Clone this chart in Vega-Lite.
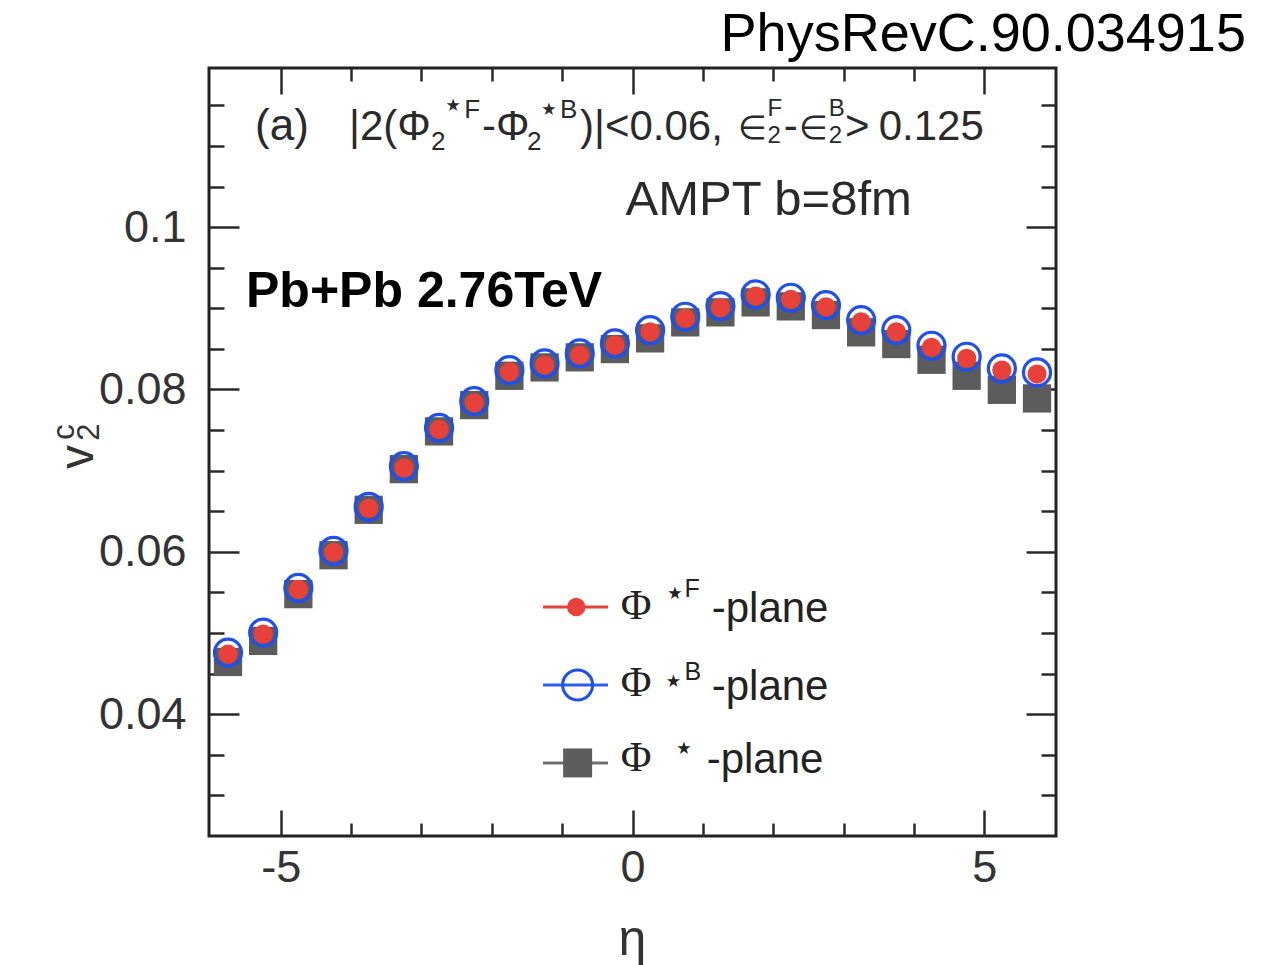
{
  "$schema": "https://vega.github.io/schema/vega-lite/v6.json",
  "width": 847,
  "height": 768,
  "autosize": "none",
  "padding": {"left": 209, "top": 68, "right": 210, "bottom": 129},
  "background": "white",
  "config": {
    "view": {"stroke": "#222222", "strokeWidth": 3},
    "axis": {"domain": false, "grid": false, "tickColor": "#2a2a2a", "tickWidth": 2.5, "labelFont": "Liberation Sans", "labelFontSize": 45, "labelColor": "#333333", "labelOverlap": false, "labelFlush": false}
  },
  "data": {"values": [{}]},
  "datasets": {
    "pts": [
      {"eta": -5.75, "v2": 0.04644, "series": "S"}, {"eta": -5.25, "v2": 0.04903, "series": "S"}, {"eta": -4.75, "v2": 0.05479, "series": "S"}, {"eta": -4.25, "v2": 0.05959, "series": "S"},
      {"eta": -3.75, "v2": 0.06518, "series": "S"}, {"eta": -3.25, "v2": 0.07019, "series": "S"}, {"eta": -2.75, "v2": 0.07484, "series": "S"}, {"eta": -2.25, "v2": 0.07808, "series": "S"},
      {"eta": -1.75, "v2": 0.08169, "series": "S"}, {"eta": -1.25, "v2": 0.08272, "series": "S"}, {"eta": -0.75, "v2": 0.08396, "series": "S"}, {"eta": -0.25, "v2": 0.08498, "series": "S"},
      {"eta": 0.25, "v2": 0.0863, "series": "S"}, {"eta": 0.75, "v2": 0.08827, "series": "S"}, {"eta": 1.25, "v2": 0.0895, "series": "S"}, {"eta": 1.75, "v2": 0.09073, "series": "S"},
      {"eta": 2.25, "v2": 0.09024, "series": "S"}, {"eta": 2.75, "v2": 0.08917, "series": "S"}, {"eta": 3.25, "v2": 0.08704, "series": "S"}, {"eta": 3.75, "v2": 0.0856, "series": "S"},
      {"eta": 4.25, "v2": 0.08366, "series": "S"}, {"eta": 4.75, "v2": 0.08169, "series": "S"}, {"eta": 5.25, "v2": 0.07996, "series": "S"}, {"eta": 5.75, "v2": 0.0789, "series": "S"},
      {"eta": -5.75, "v2": 0.04759, "series": "B"}, {"eta": -5.25, "v2": 0.05006, "series": "B"}, {"eta": -4.75, "v2": 0.05557, "series": "B"}, {"eta": -4.25, "v2": 0.06013, "series": "B"},
      {"eta": -3.75, "v2": 0.06555, "series": "B"}, {"eta": -3.25, "v2": 0.07055, "series": "B"}, {"eta": -2.75, "v2": 0.07528, "series": "B"}, {"eta": -2.25, "v2": 0.07856, "series": "B"},
      {"eta": -1.75, "v2": 0.08238, "series": "B"}, {"eta": -1.25, "v2": 0.08321, "series": "B"}, {"eta": -0.75, "v2": 0.08444, "series": "B"}, {"eta": -0.25, "v2": 0.08567, "series": "B"},
      {"eta": 0.25, "v2": 0.08731, "series": "B"}, {"eta": 0.75, "v2": 0.08896, "series": "B"}, {"eta": 1.25, "v2": 0.09027, "series": "B"}, {"eta": 1.75, "v2": 0.09171, "series": "B"},
      {"eta": 2.25, "v2": 0.0913, "series": "B"}, {"eta": 2.75, "v2": 0.09039, "series": "B"}, {"eta": 3.25, "v2": 0.08854, "series": "B"}, {"eta": 3.75, "v2": 0.08731, "series": "B"},
      {"eta": 4.25, "v2": 0.08539, "series": "B"}, {"eta": 4.75, "v2": 0.08403, "series": "B"}, {"eta": 5.25, "v2": 0.08259, "series": "B"}, {"eta": 5.75, "v2": 0.0821, "series": "B"},
      {"eta": -5.75, "v2": 0.04739, "series": "F"}, {"eta": -5.25, "v2": 0.04986, "series": "F"}, {"eta": -4.75, "v2": 0.05537, "series": "F"}, {"eta": -4.25, "v2": 0.05993, "series": "F"},
      {"eta": -3.75, "v2": 0.06535, "series": "F"}, {"eta": -3.25, "v2": 0.07035, "series": "F"}, {"eta": -2.75, "v2": 0.07508, "series": "F"}, {"eta": -2.25, "v2": 0.07836, "series": "F"},
      {"eta": -1.75, "v2": 0.08218, "series": "F"}, {"eta": -1.25, "v2": 0.08301, "series": "F"}, {"eta": -0.75, "v2": 0.08424, "series": "F"}, {"eta": -0.25, "v2": 0.08547, "series": "F"},
      {"eta": 0.25, "v2": 0.08711, "series": "F"}, {"eta": 0.75, "v2": 0.08876, "series": "F"}, {"eta": 1.25, "v2": 0.09007, "series": "F"}, {"eta": 1.75, "v2": 0.09151, "series": "F"},
      {"eta": 2.25, "v2": 0.0911, "series": "F"}, {"eta": 2.75, "v2": 0.09019, "series": "F"}, {"eta": 3.25, "v2": 0.08834, "series": "F"}, {"eta": 3.75, "v2": 0.08711, "series": "F"},
      {"eta": 4.25, "v2": 0.08519, "series": "F"}, {"eta": 4.75, "v2": 0.08383, "series": "F"}, {"eta": 5.25, "v2": 0.08239, "series": "F"}, {"eta": 5.75, "v2": 0.0819, "series": "F"}
    ]
  },
  "layer": [
    {
      "data": {"name": "pts"},
      "transform": [{"filter": "datum.series === 'S'"}],
      "mark": {"type": "point", "shape": "square", "filled": true, "color": "#5c5c5c", "size": 800, "opacity": 1},
      "encoding": {
        "x": {"field": "eta", "type": "quantitative", "scale": {"domain": [-6.02, 6.02], "nice": false, "zero": false},
          "axis": {"orient": "bottom", "title": null, "values": [-5, -4, -3, -2, -1, 0, 1, 2, 3, 4, 5],
            "tickSize": {"condition": {"test": "datum.value % 5 === 0", "value": -26}, "value": -13},
            "labelExpr": "datum.value % 5 === 0 ? '' + datum.value : ''", "labelPadding": 35}},
        "y": {"field": "v2", "type": "quantitative", "scale": {"domain": [0.025, 0.1196], "nice": false, "zero": false},
          "axis": {"orient": "left", "title": null, "values": [0.03, 0.035, 0.04, 0.045, 0.05, 0.055, 0.06, 0.065, 0.07, 0.075, 0.08, 0.085, 0.09, 0.095, 0.1, 0.105, 0.11, 0.115],
            "tickSize": {"condition": {"test": "indexof([0.04, 0.06, 0.08, 0.1], datum.value) >= 0", "value": -30}, "value": -15},
            "labelExpr": "indexof([0.04, 0.06, 0.08, 0.1], datum.value) >= 0 ? '' + datum.value : ''", "labelPadding": 53}}
      }
    },
    {
      "data": {"name": "pts"},
      "transform": [{"filter": "datum.series === 'B'"}],
      "mark": {"type": "point", "shape": "circle", "filled": false, "color": "#1f4fec", "strokeWidth": 3.2, "size": 729, "opacity": 1},
      "encoding": {
        "x": {"field": "eta", "type": "quantitative",
          "axis": {"orient": "top", "title": null, "labels": false, "values": [-5, -4, -3, -2, -1, 0, 1, 2, 3, 4, 5],
            "tickSize": {"condition": {"test": "datum.value % 5 === 0", "value": -26}, "value": -13}}},
        "y": {"field": "v2", "type": "quantitative",
          "axis": {"orient": "right", "title": null, "labels": false, "values": [0.03, 0.035, 0.04, 0.045, 0.05, 0.055, 0.06, 0.065, 0.07, 0.075, 0.08, 0.085, 0.09, 0.095, 0.1, 0.105, 0.11, 0.115],
            "tickSize": {"condition": {"test": "indexof([0.04, 0.06, 0.08, 0.1], datum.value) >= 0", "value": -30}, "value": -15}}}
      }
    },
    {
      "data": {"name": "pts"},
      "transform": [{"filter": "datum.series === 'F'"}],
      "mark": {"type": "point", "shape": "circle", "filled": true, "color": "#e8403b", "size": 370, "opacity": 1},
      "encoding": {
        "x": {"field": "eta", "type": "quantitative", "axis": null},
        "y": {"field": "v2", "type": "quantitative", "axis": null}
      }
    },
    {
      "encoding": {"y": {"datum": 0.0532, "type": "quantitative", "axis": null}},
      "layer": [
        {"mark": {"type": "rule", "color": "#e8403b", "strokeWidth": 3}, "encoding": {"x": {"datum": -1.272, "type": "quantitative", "axis": null}, "x2": {"datum": -0.348}}},
        {"mark": {"type": "point", "shape": "circle", "filled": true, "color": "#e8403b", "size": 340, "opacity": 1}, "encoding": {"x": {"datum": -0.8, "type": "quantitative", "axis": null}}},
        {"mark": {"type": "text", "text": "Φ", "font": "Liberation Serif", "fontSize": 42, "align": "left", "baseline": "alphabetic", "dy": 12, "color": "#222222"}, "encoding": {"x": {"datum": -0.168, "type": "quantitative", "axis": null}}},
        {"mark": {"type": "text", "text": "⋆", "font": "DejaVu Sans", "fontSize": 34, "align": "left", "baseline": "alphabetic", "dy": -3, "color": "#222222"}, "encoding": {"x": {"datum": 0.45, "type": "quantitative", "axis": null}}},
        {"mark": {"type": "text", "text": "F", "font": "Liberation Sans", "fontSize": 25, "align": "left", "baseline": "alphabetic", "dy": -10, "color": "#222222"}, "encoding": {"x": {"datum": 0.74, "type": "quantitative", "axis": null}}},
        {"mark": {"type": "text", "text": "-plane", "font": "Liberation Sans", "fontSize": 42, "align": "left", "baseline": "alphabetic", "dy": 15, "color": "#222222"}, "encoding": {"x": {"datum": 1.126, "type": "quantitative", "axis": null}}}
      ]
    },
    {
      "encoding": {"y": {"datum": 0.0436, "type": "quantitative", "axis": null}},
      "layer": [
        {"mark": {"type": "rule", "color": "#2f5ff0", "strokeWidth": 3}, "encoding": {"x": {"datum": -1.272, "type": "quantitative", "axis": null}, "x2": {"datum": -0.348}}},
        {"mark": {"type": "point", "shape": "circle", "filled": false, "color": "#1f4fec", "strokeWidth": 3, "size": 900, "opacity": 1}, "encoding": {"x": {"datum": -0.78, "type": "quantitative", "axis": null}}},
        {"mark": {"type": "text", "text": "Φ", "font": "Liberation Serif", "fontSize": 42, "align": "left", "baseline": "alphabetic", "dy": 11, "color": "#222222"}, "encoding": {"x": {"datum": -0.168, "type": "quantitative", "axis": null}}},
        {"mark": {"type": "text", "text": "⋆", "font": "DejaVu Sans", "fontSize": 34, "align": "left", "baseline": "alphabetic", "dy": 7, "color": "#222222"}, "encoding": {"x": {"datum": 0.43, "type": "quantitative", "axis": null}}},
        {"mark": {"type": "text", "text": "B", "font": "Liberation Sans", "fontSize": 25, "align": "left", "baseline": "alphabetic", "dy": -5, "color": "#222222"}, "encoding": {"x": {"datum": 0.74, "type": "quantitative", "axis": null}}},
        {"mark": {"type": "text", "text": "-plane", "font": "Liberation Sans", "fontSize": 42, "align": "left", "baseline": "alphabetic", "dy": 15, "color": "#222222"}, "encoding": {"x": {"datum": 1.126, "type": "quantitative", "axis": null}}}
      ]
    },
    {
      "encoding": {"y": {"datum": 0.034, "type": "quantitative", "axis": null}},
      "layer": [
        {"mark": {"type": "rule", "color": "#707070", "strokeWidth": 3}, "encoding": {"x": {"datum": -1.272, "type": "quantitative", "axis": null}, "x2": {"datum": -0.348}}},
        {"mark": {"type": "point", "shape": "square", "filled": true, "color": "#5c5c5c", "size": 840, "opacity": 1}, "encoding": {"x": {"datum": -0.78, "type": "quantitative", "axis": null}}},
        {"mark": {"type": "text", "text": "Φ", "font": "Liberation Serif", "fontSize": 42, "align": "left", "baseline": "alphabetic", "dy": 8, "color": "#222222"}, "encoding": {"x": {"datum": -0.168, "type": "quantitative", "axis": null}}},
        {"mark": {"type": "text", "text": "⋆", "font": "DejaVu Sans", "fontSize": 34, "align": "left", "baseline": "alphabetic", "dy": -4, "color": "#222222"}, "encoding": {"x": {"datum": 0.58, "type": "quantitative", "axis": null}}},
        {"mark": {"type": "text", "text": "-plane", "font": "Liberation Sans", "fontSize": 42, "align": "left", "baseline": "alphabetic", "dy": 10, "color": "#222222"}, "encoding": {"x": {"datum": 1.054, "type": "quantitative", "axis": null}}}
      ]
    },
    {
      "mark": {"type": "text", "text": "PhysRevC.90.034915", "font": "Liberation Sans", "fontSize": 54, "align": "right", "baseline": "alphabetic", "color": "#000000"},
      "encoding": {"x": {"datum": 8.72, "type": "quantitative", "axis": null}, "y": {"datum": 0.1217, "type": "quantitative", "axis": null}}
    },
    {
      "mark": {"type": "text", "text": "Pb+Pb 2.76TeV", "font": "Liberation Sans", "fontWeight": "bold", "fontSize": 50, "align": "left", "baseline": "alphabetic", "color": "#000000"},
      "encoding": {"x": {"datum": -5.494, "type": "quantitative", "axis": null}, "y": {"datum": 0.09015, "type": "quantitative", "axis": null}}
    },
    {
      "mark": {"type": "text", "text": "AMPT b=8fm", "font": "Liberation Sans", "fontSize": 49, "align": "left", "baseline": "alphabetic", "color": "#2a2a2a"},
      "encoding": {"x": {"datum": -0.1, "type": "quantitative", "axis": null}, "y": {"datum": 0.10149, "type": "quantitative", "axis": null}}
    },
    {
      "encoding": {"y": {"datum": 0.11073, "type": "quantitative", "axis": null}},
      "layer": [
        {"mark": {"type": "text", "text": "(a)", "font": "Liberation Sans", "fontSize": 44, "align": "left", "baseline": "alphabetic", "color": "#2a2a2a"}, "encoding": {"x": {"datum": -5.366, "type": "quantitative", "axis": null}}},
        {"mark": {"type": "text", "text": "|2(Φ", "font": "Liberation Sans", "fontSize": 42, "align": "left", "baseline": "alphabetic", "color": "#2a2a2a"}, "encoding": {"x": {"datum": -4.03, "type": "quantitative", "axis": null}}},
        {"mark": {"type": "text", "text": "2", "font": "Liberation Sans", "fontSize": 26, "align": "left", "baseline": "alphabetic", "dy": 10, "color": "#2a2a2a"}, "encoding": {"x": {"datum": -2.864, "type": "quantitative", "axis": null}}},
        {"mark": {"type": "text", "text": "⋆", "font": "DejaVu Sans", "fontSize": 34, "align": "left", "baseline": "alphabetic", "dy": -24, "color": "#2a2a2a"}, "encoding": {"x": {"datum": -2.7, "type": "quantitative", "axis": null}}},
        {"mark": {"type": "text", "text": "F", "font": "Liberation Sans", "fontSize": 26, "align": "left", "baseline": "alphabetic", "dy": -22, "color": "#2a2a2a"}, "encoding": {"x": {"datum": -2.39, "type": "quantitative", "axis": null}}},
        {"mark": {"type": "text", "text": "-Φ", "font": "Liberation Sans", "fontSize": 42, "align": "left", "baseline": "alphabetic", "color": "#2a2a2a"}, "encoding": {"x": {"datum": -2.139, "type": "quantitative", "axis": null}}},
        {"mark": {"type": "text", "text": "2", "font": "Liberation Sans", "fontSize": 26, "align": "left", "baseline": "alphabetic", "dy": 10, "color": "#2a2a2a"}, "encoding": {"x": {"datum": -1.5, "type": "quantitative", "axis": null}}},
        {"mark": {"type": "text", "text": "⋆", "font": "DejaVu Sans", "fontSize": 34, "align": "left", "baseline": "alphabetic", "dy": -20, "color": "#2a2a2a"}, "encoding": {"x": {"datum": -1.34, "type": "quantitative", "axis": null}}},
        {"mark": {"type": "text", "text": "B", "font": "Liberation Sans", "fontSize": 26, "align": "left", "baseline": "alphabetic", "dy": -22, "color": "#2a2a2a"}, "encoding": {"x": {"datum": -1.03, "type": "quantitative", "axis": null}}},
        {"mark": {"type": "text", "text": ")|<0.06,", "font": "Liberation Sans", "fontSize": 42, "align": "left", "baseline": "alphabetic", "color": "#2a2a2a"}, "encoding": {"x": {"datum": -0.746, "type": "quantitative", "axis": null}}},
        {"mark": {"type": "text", "text": "∈", "font": "DejaVu Sans", "fontSize": 33, "align": "left", "baseline": "alphabetic", "dy": -1, "color": "#2a2a2a"}, "encoding": {"x": {"datum": 1.5, "type": "quantitative", "axis": null}}},
        {"mark": {"type": "text", "text": "2", "font": "Liberation Sans", "fontSize": 24, "align": "left", "baseline": "alphabetic", "dy": 3, "color": "#2a2a2a"}, "encoding": {"x": {"datum": 1.92, "type": "quantitative", "axis": null}}},
        {"mark": {"type": "text", "text": "F", "font": "Liberation Sans", "fontSize": 24, "align": "left", "baseline": "alphabetic", "dy": -24, "color": "#2a2a2a"}, "encoding": {"x": {"datum": 1.92, "type": "quantitative", "axis": null}}},
        {"mark": {"type": "text", "text": "-", "font": "Liberation Sans", "fontSize": 42, "align": "left", "baseline": "alphabetic", "color": "#2a2a2a"}, "encoding": {"x": {"datum": 2.15, "type": "quantitative", "axis": null}}},
        {"mark": {"type": "text", "text": "∈", "font": "DejaVu Sans", "fontSize": 33, "align": "left", "baseline": "alphabetic", "dy": -1, "color": "#2a2a2a"}, "encoding": {"x": {"datum": 2.367, "type": "quantitative", "axis": null}}},
        {"mark": {"type": "text", "text": "2", "font": "Liberation Sans", "fontSize": 24, "align": "left", "baseline": "alphabetic", "dy": 3, "color": "#2a2a2a"}, "encoding": {"x": {"datum": 2.79, "type": "quantitative", "axis": null}}},
        {"mark": {"type": "text", "text": "B", "font": "Liberation Sans", "fontSize": 24, "align": "left", "baseline": "alphabetic", "dy": -24, "color": "#2a2a2a"}, "encoding": {"x": {"datum": 2.79, "type": "quantitative", "axis": null}}},
        {"mark": {"type": "text", "text": ">", "font": "Liberation Sans", "fontSize": 42, "align": "left", "baseline": "alphabetic", "color": "#2a2a2a"}, "encoding": {"x": {"datum": 3.02, "type": "quantitative", "axis": null}}},
        {"mark": {"type": "text", "text": "0.125", "font": "Liberation Sans", "fontSize": 42, "align": "left", "baseline": "alphabetic", "color": "#2a2a2a"}, "encoding": {"x": {"datum": 3.5, "type": "quantitative", "axis": null}}}
      ]
    },
    {
      "mark": {"type": "text", "text": "η", "font": "Liberation Sans", "fontSize": 50, "align": "center", "baseline": "alphabetic", "color": "#333333"},
      "encoding": {"x": {"datum": 0, "type": "quantitative", "axis": null}, "y": {"datum": 0.0103, "type": "quantitative", "axis": null}}
    },
    {
      "mark": {"type": "text", "text": "v", "font": "Liberation Sans", "fontSize": 48, "angle": 270, "align": "center", "baseline": "alphabetic", "color": "#333333"},
      "encoding": {"x": {"datum": -7.669, "type": "quantitative", "axis": null}, "y": {"datum": 0.07167, "type": "quantitative", "axis": null}}
    },
    {
      "mark": {"type": "text", "text": "2", "font": "Liberation Sans", "fontSize": 31, "angle": 270, "align": "center", "baseline": "alphabetic", "color": "#333333"},
      "encoding": {"x": {"datum": -7.584, "type": "quantitative", "axis": null}, "y": {"datum": 0.07475, "type": "quantitative", "axis": null}}
    },
    {
      "mark": {"type": "text", "text": "c", "font": "Liberation Sans", "fontSize": 31, "angle": 270, "align": "center", "baseline": "alphabetic", "color": "#333333"},
      "encoding": {"x": {"datum": -7.939, "type": "quantitative", "axis": null}, "y": {"datum": 0.07475, "type": "quantitative", "axis": null}}
    }
  ],
  "resolve": {"axis": {"x": "independent", "y": "independent"}}
}
